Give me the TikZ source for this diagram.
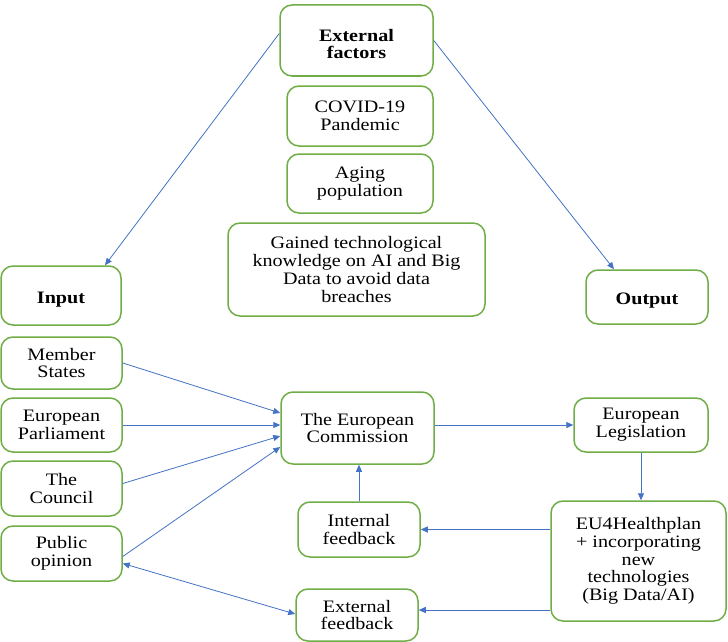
\documentclass[tikz,border=0pt]{standalone}
\usepackage{fontspec}
\setmainfont{Liberation Serif}[FakeStretch=1.15]
\usetikzlibrary{arrows.meta,calc}
\definecolor{boxgreen}{HTML}{70AD47}
\definecolor{arrblue}{HTML}{4472C4}
\tikzset{
  gbox/.style={draw=boxgreen, line width=1.5pt, rounded corners=12pt, fill=white,
    align=center, inner sep=0pt, font=\fontsize{17.5}{17.7}\selectfont},
  conn/.style={draw=arrblue, line width=0.8pt, -{Triangle[length=7pt,width=6pt]}},
  dconn/.style={draw=arrblue, line width=0.8pt, {Triangle[length=7pt,width=6pt]}-{Triangle[length=7pt,width=6pt]}}
}
\newcommand{\bx}[6]{% name, x1,y1,x2,y2, text
  \node[gbox, minimum width={#4-#2}, minimum height={#5-#3}] (#1) at ({(#2+#4)/2},{(#3+#5)/2}) {#6};}
\newcommand{\lowr}{\rule{0pt}{19pt}}
\begin{document}
\begin{tikzpicture}[x=1pt,y=-1pt]
\useasboundingbox[fill=white] (0,0) rectangle (728,642);
\bx{ext}{280}{5}{433}{76}{\lowr\textbf{External}\\\textbf{factors}}
\bx{covid}{287}{86}{433}{146}{COVID-19\\Pandemic}
\bx{aging}{287}{154}{433}{213}{Aging\\population}
\bx{gained}{228}{223}{485}{316}{Gained technological\\knowledge on AI and Big\\Data to avoid data\\breaches}
\bx{input}{1}{266}{121}{325}{\lowr\textbf{Input}}
\bx{output}{586}{270}{708}{324}{\lowr\textbf{Output}}
\bx{member}{1}{337}{122}{389}{Member\\States}
\bx{parl}{1}{398}{122}{452}{European\\Parliament}
\bx{council}{1}{461}{122}{516}{The\\Council}
\bx{public}{1}{526}{122}{581}{Public\\opinion}
\bx{ec}{281}{392}{434}{464}{The European\\Commission}
\bx{legis}{574}{398}{708}{452}{European\\Legislation}
\bx{internal}{298}{502}{420}{557}{Internal\\feedback}
\bx{eu4}{551}{501}{726}{621}{EU4Healthplan\\+ incorporating\\new\\technologies\\(Big Data/AI)}
\bx{extfb}{296}{589}{418}{641}{External\\feedback}

\draw[conn] ($(ext.west)+(0,-7)$) -- ($(input.north)+(44,0)$);
\draw[conn] (ext.east) -- ($(output.north)+(-33,0)$);
\draw[conn] (member.east) -- ($(ec.west)+(0,-15)$);
\draw[conn] (parl.east) -- (ec.west |- parl.east);
\draw[conn] ($(council.east)+(0,-5)$) -- ($(ec.west)+(0,8)$);
\draw[conn] ($(public.east)+(0,3)$) -- ($(ec.west)+(0,19)$);
\draw[conn] (ec.east |- legis.west) -- (legis.west);
\draw[conn] (legis.south) -- (legis.south |- eu4.north);
\draw[conn] (eu4.west |- internal.east) -- (internal.east);
\draw[conn] (internal.north) -- (internal.north |- ec.south);
\coordinate (fbstart) at ($(eu4.west)+(0,49)$);
\draw[conn] (fbstart) -- (extfb.east |- fbstart);
\draw[dconn] ($(public.east)+(0,10)$) -- ($(extfb.west)+(0,-1)$);
\end{tikzpicture}
\end{document}
